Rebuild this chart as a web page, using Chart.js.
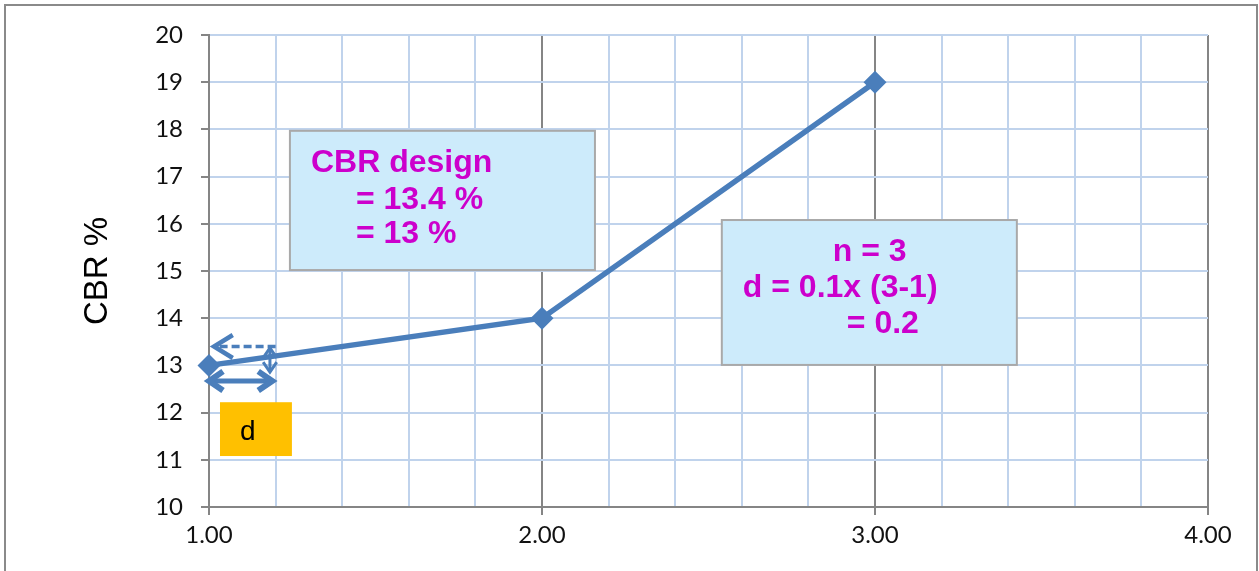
<!DOCTYPE html>
<html>
<head>
<meta charset="utf-8">
<script src="https://cdn.jsdelivr.net/npm/chart.js@4.4.1/dist/chart.umd.min.js"></script>
<style>
  html, body { margin: 0; padding: 0; background: #fff; }
  #wrap { width: 1259px; height: 571px; }
</style>
</head>
<body>
<div id="wrap"><canvas id="chart1"></canvas></div>
<script>
// data
const xValues = [1, 2, 3];
const cbrValues = [13, 14, 19];
const xTickLabels = ['1.00', '2.00', '3.00', '4.00'];
const yTickLabels = ['10', '11', '12', '13', '14', '15', '16', '17', '18', '19', '20'];
const yTitle = 'CBR %';

// notes on the chart
const noteCbr = ['CBR design', '= 13.4 %', '= 13 %'];
const noteN = ['n = 3', 'd = 0.1x (3-1)', '= 0.2'];
const noteD = 'd';
const cbrDesign = 13.4;
const dStart = 1.0;
const dEnd = 1.2;

const BLUE = '#4a7ebb';
const isWhole = v => Math.abs(v - Math.round(v)) < 1e-6;

function arrowHead(ctx, tipX, tipY, fromX, fromY, len, ang) {
    let a = Math.atan2(tipY - fromY, tipX - fromX);
    ctx.beginPath();
    ctx.moveTo(tipX - len * Math.cos(a - ang), tipY - len * Math.sin(a - ang));
    ctx.lineTo(tipX, tipY);
    ctx.lineTo(tipX - len * Math.cos(a + ang), tipY - len * Math.sin(a + ang));
    ctx.stroke();
}

function arrow(ctx, x1, y1, x2, y2, o) {
    ctx.save();
    ctx.strokeStyle = BLUE;
    ctx.lineWidth = o.width;
    ctx.lineCap = 'butt';
    ctx.lineJoin = 'miter';
    ctx.setLineDash(o.dash || []);
    ctx.beginPath();
    ctx.moveTo(x1, y1);
    ctx.lineTo(x2, y2);
    ctx.stroke();
    ctx.setLineDash([]);
    ctx.lineWidth = o.headWidth || o.width;
    if (o.end) arrowHead(ctx, x2, y2, x1, y1, o.head, o.angle);
    if (o.start) arrowHead(ctx, x1, y1, x2, y2, o.head, o.angle);
    ctx.restore();
}

function noteBox(ctx, x1, y1, x2, y2, fill, border) {
    ctx.save();
    ctx.fillStyle = fill;
    ctx.fillRect(x1, y1, x2 - x1, y2 - y1);
    if (border) {
        ctx.strokeStyle = border;
        ctx.lineWidth = 2;
        ctx.strokeRect(x1, y1, x2 - x1, y2 - y1);
    }
    ctx.restore();
}

const overlay = {
    id: 'overlay',
    beforeDraw(chart) {
        let ctx = chart.ctx;
        ctx.save();
        ctx.strokeStyle = '#8a8a8a';
        ctx.lineWidth = 2;
        ctx.strokeRect(5, 5, chart.width - 7, chart.height + 20);
        ctx.restore();
    },
    afterDatasetsDraw(chart) {
        let ctx = chart.ctx;
        let xs = chart.scales.x, ys = chart.scales.y;
        let px = v => xs.getPixelForValue(v);
        let py = v => ys.getPixelForValue(v);
        let boldFont = 'bold 32px "Liberation Sans", Arial, sans-serif';

        // CBR design box
        let bx = px(1.243), by = py(17.97);
        noteBox(ctx, bx, by, px(2.159), py(15.02), '#cdebfb', '#a9a9a9');
        ctx.save();
        ctx.fillStyle = '#cc00cc';
        ctx.font = boldFont;
        ctx.fillText(noteCbr[0], bx + 21, by + 41);
        ctx.fillText(noteCbr[1], bx + 66, by + 78);
        ctx.fillText(noteCbr[2], bx + 66, by + 112);
        ctx.restore();

        // n / d box
        let nx = px(2.54), ny = py(16.08);
        noteBox(ctx, nx, ny, px(3.426), py(13.01), '#cdebfb', '#a9a9a9');
        ctx.save();
        ctx.fillStyle = '#cc00cc';
        ctx.font = boldFont;
        ctx.fillText(noteN[0], nx + 111, ny + 41);
        ctx.fillText(noteN[1], nx + 21, ny + 77);
        ctx.fillText(noteN[2], nx + 125, ny + 113);
        ctx.restore();

        // orange d box
        let dx = px(1.033), dy = py(12.22);
        noteBox(ctx, dx, dy, px(1.249), py(11.08), '#ffc000', null);
        ctx.save();
        ctx.fillStyle = '#000';
        ctx.font = '28px "Liberation Sans", Arial, sans-serif';
        ctx.fillText(noteD, dx + 20, dy + 38);
        ctx.restore();

        // dashed arrow back to the axis at CBR design
        arrow(ctx, px(dEnd), py(cbrDesign), px(dStart) + 5, py(cbrDesign),
            {width: 3.5, dash: [8, 4], end: true, head: 22, angle: 0.55, headWidth: 4.5});
        // vertical arrow
        arrow(ctx, px(1.183), py(13.37), px(1.183), py(12.86),
            {width: 3, start: true, end: true, head: 12, angle: 0.6});
        // horizontal d arrow
        arrow(ctx, px(dStart), py(12.67), px(1.19), py(12.67),
            {width: 5, start: true, end: true, head: 17, angle: 0.6, headWidth: 6});
    }
};

const tickFont = {family: 'Lato, "Open Sans", sans-serif', size: 24};

new Chart(document.getElementById('chart1'), {
    type: 'scatter',
    data: {
        datasets: [{
            label: 'CBR',
            data: xValues.map((x, i) => ({x: x, y: cbrValues[i]})),
            showLine: true,
            clip: false,
            borderColor: BLUE,
            backgroundColor: BLUE,
            borderWidth: 5.5,
            pointStyle: 'rectRot',
            pointRadius: 11.5,
            pointBorderWidth: 0,
            pointBackgroundColor: BLUE
        }]
    },
    options: {
        responsive: true,
        maintainAspectRatio: false,
        animation: false,
        events: [],
        layout: {padding: {left: 0, right: 51, top: 35, bottom: 0}},
        plugins: {legend: {display: false}, tooltip: {enabled: false}},
        scales: {
            x: {
                type: 'linear',
                min: 1, max: 4,
                afterFit: s => { s.height = 64; },
                ticks: {
                    stepSize: 0.2,
                    autoSkip: false,
                    maxRotation: 0,
                    padding: 6,
                    color: '#111',
                    font: tickFont,
                    callback: v => isWhole(v) ? xTickLabels[Math.round(v) - 1] : ''
                },
                grid: {
                    lineWidth: 2,
                    tickLength: 8,
                    color: c => isWhole(c.tick.value) ? '#858585' : '#c0d3ec',
                    tickColor: c => isWhole(c.tick.value) ? '#858585' : 'rgba(0,0,0,0)'
                },
                border: {color: '#858585', width: 2}
            },
            y: {
                min: 10, max: 20,
                afterFit: s => { s.width = 209; },
                title: {
                    display: true,
                    text: yTitle,
                    color: '#000',
                    font: {family: '"Liberation Sans", Arial, sans-serif', size: 33},
                    padding: {top: 78, bottom: 0}
                },
                ticks: {
                    stepSize: 0.5,
                    padding: 18,
                    color: '#111',
                    font: tickFont,
                    callback: v => isWhole(v) ? yTickLabels[Math.round(v) - 10] : ''
                },
                grid: {
                    lineWidth: 2,
                    tickLength: 8,
                    color: c => isWhole(c.tick.value) ? '#c0d3ec' : '#bdbdbd',
                    tickColor: c => isWhole(c.tick.value) ? '#858585' : 'rgba(0,0,0,0)'
                },
                border: {color: '#858585', width: 2}
            }
        }
    },
    plugins: [overlay]
});
</script>
</body>
</html>
